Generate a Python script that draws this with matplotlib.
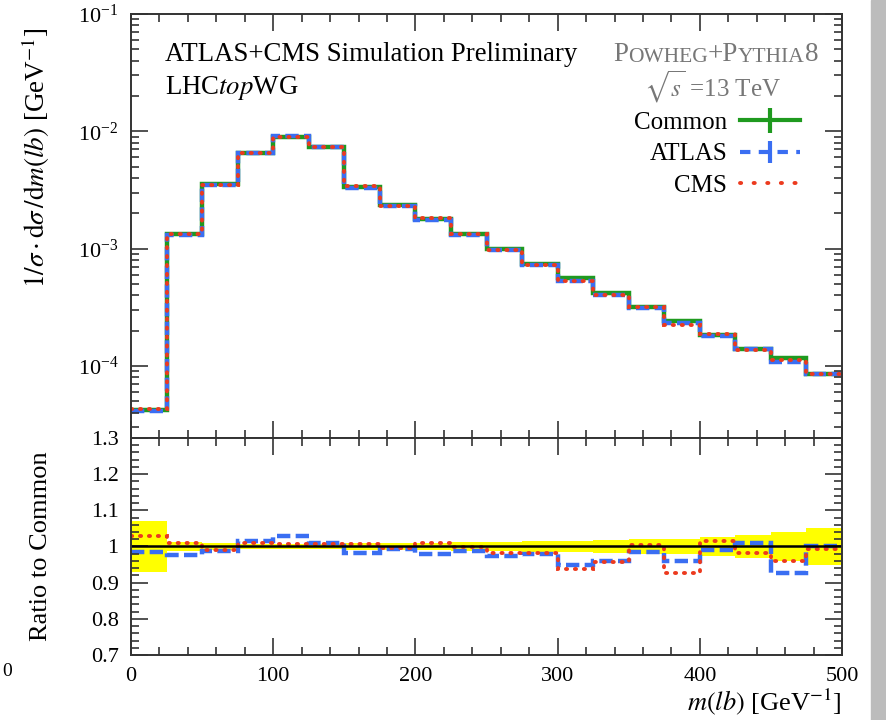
import numpy as np
import matplotlib
matplotlib.use("Agg")
import matplotlib.pyplot as plt
from matplotlib.lines import Line2D
from matplotlib.patches import Rectangle
from matplotlib.ticker import MultipleLocator, LogLocator, NullFormatter

plt.rcParams["font.family"] = ["Liberation Serif", "DejaVu Serif"]
plt.rcParams["mathtext.fontset"] = "stix"

# m(lb) bin edges, 25 GeV wide
edges = np.arange(0, 525, 25)

# normalised cross section, Common setup
common = [4.2e-5, 1.33e-3, 3.52e-3, 6.47e-3, 8.93e-3, 7.28e-3, 3.38e-3,
          2.33e-3, 1.79e-3, 1.33e-3, 9.93e-4, 7.40e-4, 5.61e-4, 4.18e-4,
          3.18e-4, 2.41e-4, 1.83e-4, 1.39e-4, 1.17e-4, 8.53e-5]

# ratios to Common
ratio_atlas = [0.986, 0.977, 0.988, 1.016, 1.028, 1.011, 0.981, 0.993, 0.979, 0.988,
               0.974, 0.979, 0.950, 0.959, 0.985, 0.959, 0.990, 1.009, 0.928, 1.002]
ratio_cms = [1.029, 1.011, 0.990, 1.011, 1.008, 1.006, 1.008, 0.995, 1.009, 0.999,
             0.981, 0.983, 0.937, 0.958, 1.005, 0.928, 1.016, 0.983, 0.959, 0.993]

# relative uncertainty of Common (yellow band)
band_err = [0.070, 0.012, 0.010, 0.008, 0.008, 0.008, 0.009, 0.010, 0.011, 0.012,
            0.013, 0.014, 0.016, 0.018, 0.020, 0.022, 0.026, 0.033, 0.041, 0.050]

common = np.array(common)
atlas = common * np.array(ratio_atlas)
cms = common * np.array(ratio_cms)
band_err = np.array(band_err)

green = "#1f9a1f"
blue = "#3a6ef2"
red = "#ec3a1e"
dash = (0, (3.0, 1.2))
dots = (0, (0.3, 2.0))

fig = plt.figure(figsize=(8.87, 7.2), dpi=100)
ax = fig.add_axes([0.1477, 0.3917, 0.8016, 0.5889])
rax = fig.add_axes([0.1477, 0.0903, 0.8016, 0.3014])

# main panel
ax.stairs(common, edges, baseline=None, color=green, lw=3.2)
ax.stairs(atlas, edges, baseline=None, color=blue, lw=3.2, linestyle=dash)
s = ax.stairs(cms, edges, baseline=None, color=red, lw=2.8, linestyle=dots)
s.set_capstyle("round")
ax.set_yscale("log")
ax.set_ylim(2.43e-5, 0.1)
ax.set_xlim(0, 500)
ax.set_ylabel(r"$1/\sigma \cdot \mathrm{d}\sigma\,/\mathrm{d}m(lb)$ [GeV$^{-1}$]", fontsize=19.5)
ax.yaxis.set_label_coords(-0.111, 0.66)
ax.yaxis.set_major_locator(LogLocator(base=10, numticks=10))
ax.yaxis.set_minor_locator(LogLocator(base=10, subs=np.arange(2, 10), numticks=10))
ax.yaxis.set_minor_formatter(NullFormatter())
ax.tick_params(labelbottom=False)

ax.text(0.048, 0.89, "ATLAS+CMS Simulation Preliminary", transform=ax.transAxes, fontsize=19.3)
ax.text(0.048, 0.812, r"LHC$\mathit{top}$WG", transform=ax.transAxes, fontsize=19.3)

# small caps title built from pieces
gray = "#777777"
parts = [("P", 19.5), ("OWHEG", 15.5), ("+P", 19.5), ("YTHIA", 15.5), ("8", 19.5)]
prev = ax.text(0.678, 0.89, parts[0][0], transform=ax.transAxes, fontsize=parts[0][1], color=gray)
for txt, fs in parts[1:]:
    prev = ax.annotate(txt, xy=(1, 0), xycoords=prev, fontsize=fs, color=gray, va="bottom")
ax.text(0.818, 0.805, r"$\sqrt{s}$ =13 TeV", transform=ax.transAxes, fontsize=18, color=gray, ha="center")

handles = [
    Line2D([], [], color=green, lw=3, marker="|", markersize=18, markeredgewidth=3),
    Line2D([], [], color=blue, lw=3, linestyle=(0, (2.5, 2.0)), marker="|", markersize=16, markeredgewidth=3),
    Line2D([], [], color=red, lw=2.8, linestyle=(0, (0.3, 3.2)), dash_capstyle="round"),
]
ax.legend(handles, ["Common", "ATLAS", "CMS"], loc="upper right", bbox_to_anchor=(0.958, 0.8),
          frameon=False, markerfirst=False, numpoints=1, fontsize=18, handlelength=2.4,
          handletextpad=0.5, labelspacing=0.36, borderpad=0)

# ratio panel
rax.stairs(1 + band_err, edges, baseline=1 - band_err, fill=True, color="#ffff00", lw=0)
rax.axhline(1.0, color="black", lw=1.8)
rax.stairs(ratio_atlas, edges, baseline=None, color=blue, lw=3.2, linestyle=dash)
s = rax.stairs(ratio_cms, edges, baseline=None, color=red, lw=2.8, linestyle=dots)
s.set_capstyle("round")
rax.set_xlim(0, 500)
rax.set_ylim(0.7, 1.3)
rax.yaxis.set_minor_locator(MultipleLocator(0.02))
rax.set_yticks([0.7, 0.8, 0.9, 1.0, 1.1, 1.2, 1.3])
rax.set_yticklabels(["0.7", "0.8", "0.9", "1", "1.1", "1.2", "1.3"])
rax.set_ylabel("Ratio to Common", fontsize=19)
rax.yaxis.set_label_coords(-0.111, 0.5)
rax.set_xlabel(r"$m(lb)$ [GeV$^{-1}$]", fontsize=19, loc="right", labelpad=0)

for a in (ax, rax):
    a.xaxis.set_major_locator(MultipleLocator(100))
    a.xaxis.set_minor_locator(MultipleLocator(20))
    a.tick_params(which="both", direction="in", top=True, right=True, labelsize=16,
                  width=1.2, color="#333333", pad=9)
    a.tick_params(which="major", length=12)
    a.tick_params(which="minor", length=6)
    for sp in a.spines.values():
        sp.set_linewidth(1.4)
        sp.set_color("#333333")

# stray label at the left edge and the window strip on the right
fig.text(0.002, 1 - 672 / 720, "0", fontsize=14, ha="left", va="center")
fig.patches.append(Rectangle((0.982, 0), 0.018, 1, transform=fig.transFigure, color="#bcbcbc", zorder=-1))

fig.savefig("out.png", dpi=100)
